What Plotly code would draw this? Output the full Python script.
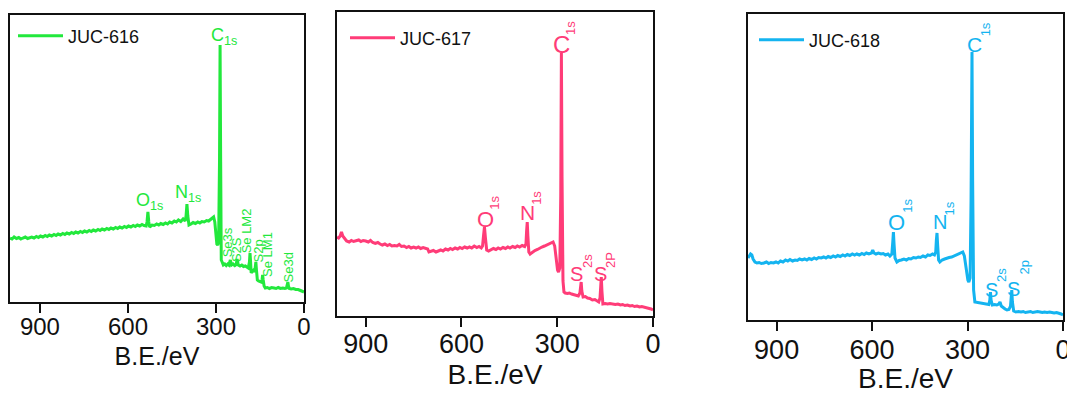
import plotly.graph_objects as go

# ---------------- data (binding energy in eV, intensity in a.u.) ----------------
be_616 = [1002, 995, 988, 980, 972, 965, 958, 950, 942, 935, 928, 920, 912, 905, 898, 890, 882, 875,
          868, 860, 852, 845, 838, 830, 822, 815, 808, 800, 792, 785, 778, 770, 762, 755, 748, 740,
          732, 725, 718, 710, 702, 695, 688, 680, 672, 665, 658, 650, 642, 635, 628, 620, 612, 605,
          598, 590, 582, 575, 568, 560, 552, 545, 538, 535, 532, 529, 526, 518, 510, 502, 495, 488,
          480, 472, 465, 458, 450, 442, 435, 428, 420, 412, 405, 402, 399, 396, 392, 385, 378, 370,
          362, 355, 348, 340, 332, 325, 318, 312, 308, 304, 300, 297, 294, 291, 288, 286, 284, 282,
          279, 275, 270, 265, 260, 256, 251, 247, 242, 236, 231, 228, 224, 218, 212, 206, 200, 195,
          190, 186, 184, 182, 180, 176, 172, 168, 166, 164, 162, 159, 155, 150, 146, 143, 141, 139,
          136, 132, 125, 118, 110, 102, 95, 88, 80, 72, 65, 60, 57, 55, 53, 50, 44, 36, 28, 20, 12, 5, 0]
int_616 = [64, 63, 65, 63.5, 64.5, 63, 64, 65, 63.5, 64.5, 65, 64, 65.5, 64.5, 66, 65, 66.5, 65.5,
           67, 66, 67.5, 66.5, 68, 67, 68.5, 67.5, 69, 68, 69.5, 68.5, 70, 69, 70.5, 69.5, 71, 70,
           71.5, 70.5, 72, 71, 72.5, 71.5, 73, 72, 73.5, 72.5, 74, 73, 74.5, 73.5, 75, 74, 75.5, 74.5,
           76, 75, 76.5, 75.5, 77, 76, 77.5, 76.5, 76, 80, 90, 80, 75, 77, 76.5, 78, 77, 78.5,
           77.5, 79, 78, 80, 79, 81, 80, 82, 80.5, 83, 81, 86, 98, 86, 77, 78, 79.5, 78.5,
           80, 79, 80.5, 80, 81.5, 81, 83, 84, 85, 80, 64, 58, 57, 60, 140, 257, 140, 42,
           40, 37, 38, 36.5, 38, 37, 42, 37, 38, 36.5, 37.5, 43, 37, 36, 37, 35.5, 36, 35,
           34, 40, 49, 40, 29, 31, 32, 30, 34, 40, 32, 22, 21, 20.5, 20, 22, 27, 22,
           16, 14, 14.5, 13.5, 14.5, 14, 13.5, 14.5, 13.5, 14, 13.5, 14, 18, 20, 16, 13.5, 13, 13.5, 12.5, 12.5, 11.5, 10.5, 10]

be_617 = [990, 985, 980, 976, 972, 966, 960, 952, 945, 938, 930, 922, 915, 908, 900, 892, 885, 878,
          870, 862, 855, 848, 840, 832, 825, 818, 810, 802, 795, 788, 780, 772, 765, 758, 750, 742,
          735, 728, 720, 712, 706, 702, 695, 688, 680, 672, 665, 658, 650, 642, 635, 628, 620, 612,
          605, 598, 590, 582, 575, 568, 560, 552, 545, 538, 534, 531, 528, 525, 521, 515, 508, 500,
          492, 485, 478, 470, 462, 455, 448, 440, 432, 425, 418, 410, 402, 398, 396, 394, 392, 389,
          385, 378, 370, 362, 355, 348, 340, 332, 325, 318, 313, 308, 303, 299, 296, 292, 289, 287,
          285, 282, 279, 275, 268, 262, 255, 248, 240, 234, 229, 227, 225, 223, 219, 212, 205, 198,
          190, 182, 175, 170, 166, 164, 162, 160, 157, 150, 142, 135, 125, 118, 110, 102, 95, 88,
          80, 72, 65, 58, 50, 42, 35, 28, 20, 12, 6, 0]
int_617 = [79, 78, 80, 84, 80, 77, 75, 74, 75.5, 74.5, 75, 76, 74.5, 75.5, 75, 74, 75.5, 73.5,
           72.5, 73.5, 72, 71, 72, 70.5, 71.5, 70, 70.5, 70, 71.5, 69.5, 70, 68.5, 69.5, 68, 69, 68,
           69, 67.5, 68.5, 68, 67, 64, 64.5, 65.5, 64, 65, 66, 65, 67, 66, 67.5, 66.5, 68, 67,
           68.5, 67.5, 69, 68, 69, 68, 70, 68.5, 69.5, 68, 70, 80, 89, 78, 66, 65, 66, 67.5,
           66.5, 68, 67, 68.5, 67.5, 69, 68, 69.5, 68.5, 70, 69, 70.5, 69.5, 72, 85, 94, 80, 64,
           62, 64, 65.5, 66.5, 68, 69, 70, 71, 72, 73, 74, 70, 55, 46, 44, 48, 120, 263,
           140, 35, 24, 23, 22.5, 23, 22, 21.5, 21, 20, 23, 32, 34, 25, 19, 19.5, 18, 17.5,
           16, 16.5, 15, 14, 18, 36, 39, 25, 12, 12.5, 12, 12.5, 12, 11.5, 12, 11, 11.5, 10.5,
           11, 10, 10.5, 9.5, 10, 9, 9.5, 9, 8.5, 8, 7, 6]

be_618 = [990, 986, 982, 978, 974, 968, 962, 955, 948, 940, 932, 925, 918, 910, 902, 895, 888, 880,
          872, 865, 858, 850, 842, 835, 828, 820, 812, 805, 798, 790, 782, 775, 768, 760, 752, 745,
          738, 730, 722, 715, 708, 700, 692, 685, 678, 670, 662, 655, 648, 640, 632, 625, 618, 610,
          602, 598, 594, 588, 580, 572, 565, 558, 550, 544, 538, 535, 533, 531, 528, 522, 515, 508,
          500, 492, 485, 478, 470, 462, 455, 448, 440, 432, 425, 418, 410, 404, 400, 398, 396, 394,
          391, 387, 380, 372, 365, 358, 350, 342, 335, 328, 320, 315, 310, 304, 299, 296, 292, 289,
          286, 284, 281, 277, 270, 262, 255, 248, 240, 233, 230, 228, 226, 222, 215, 208, 202, 198,
          194, 188, 182, 176, 170, 165, 163, 161, 159, 155, 148, 140, 132, 125, 118, 110, 102, 95,
          88, 80, 72, 65, 58, 50, 42, 35, 28, 20, 12, 6, 0]
int_618 = [62, 64, 66, 65, 61, 58, 57, 57.5, 56.5, 57, 58, 56.5, 57.5, 57, 58, 57, 59, 58,
           60, 59, 60.5, 59, 60, 59.5, 61, 60, 61, 60, 61.5, 60.5, 62, 61, 62.5, 62, 63, 62,
           63.5, 62.5, 64, 63, 64.5, 63.5, 65, 64, 65.5, 64.5, 66, 65, 66, 65, 66.5, 65.5, 67, 66,
           67, 70, 67, 66, 67, 66, 66.5, 65, 66, 64, 66, 78, 88, 76, 62, 58, 59.5, 60,
           61, 60, 61.5, 61, 62.5, 62, 63, 62.5, 64, 63, 65, 64.5, 66, 65, 68, 80, 87, 75,
           60, 58, 60, 61, 62, 62.5, 63, 64, 65.5, 66, 67, 68, 64, 50, 40, 38, 42, 120,
           268, 140, 30, 18, 17.5, 17, 16.5, 16, 16, 15.5, 20, 28, 20, 15, 15.5, 15, 16, 18,
           14, 12, 11, 10, 10.5, 14, 28, 30, 18, 9, 8, 8.5, 8, 8.5, 7.5, 8, 8.5, 7.5,
           8, 8.5, 8, 7.5, 8, 7.5, 8, 7.5, 7, 7.5, 7, 6, 5]

names = ["JUC-616", "JUC-617", "JUC-618"]
colors = ["#22E83C", "#FF3C78", "#14B4F0"]
tick_vals = [900, 600, 300, 0]
tick_text = ["900", "600", "300", "0"]
x_title = "B.E./eV"

# ---------------- layout helpers ----------------
# the page body has an 8 px margin, so the figure is drawn 8 px smaller and positions offset
OFF = 8
W, H = 1075 - OFF, 394 - OFF
FONT = "Liberation Sans, Arial, sans-serif"

def px_dom(x0, x1, ytop, ybot):
    return [(x0 - OFF) / W, (x1 - OFF) / W], [1 - (ybot - OFF) / H, 1 - (ytop - OFF) / H]

panels = [
    dict(dom=px_dom(10, 304, 15, 302), xr=[1002, 0], yr=[0, 287], tickfs=24, titlefs=25,
         standoff=9, lstand=-7),
    dict(dom=px_dom(337, 653, 12, 316), xr=[990, 0], yr=[0, 304], tickfs=27, titlefs=28,
         standoff=4, lstand=-6),
    dict(dom=px_dom(748, 1063, 14, 320), xr=[990, 0], yr=[0, 306], tickfs=27, titlefs=28,
         standoff=4, lstand=-4),
]
series = [(be_616, int_616), (be_617, int_617), (be_618, int_618)]

fig = go.Figure()
legend_pos = [(13, 36), (345, 38), (754, 40)]
for i, (p, (bx, iy)) in enumerate(zip(panels, series)):
    k = "" if i == 0 else str(i + 1)
    lg = "legend" if i == 0 else f"legend{i + 1}"
    fig.add_trace(go.Scatter(x=bx, y=iy, mode="lines", name=names[i],
                             line=dict(color=colors[i], width=3),
                             xaxis="x" + k, yaxis="y" + k, legend=lg))
    xd, yd = p["dom"]
    fig.update_layout(**{
        "xaxis" + k: dict(domain=xd, range=p["xr"], anchor="y" + k, tickvals=tick_vals, ticktext=tick_text,
                          ticks="outside", ticklen=9, tickwidth=2, tickcolor="#111", automargin=False,
                          ticklabelstandoff=p["lstand"],
                          showline=True, linewidth=2, linecolor="#111", mirror=True,
                          showgrid=False, zeroline=False,
                          tickfont=dict(family=FONT, size=p["tickfs"], color="#111"),
                          title=dict(text=x_title, standoff=p["standoff"],
                                     font=dict(family=FONT, size=p["titlefs"], color="#111"))),
        "yaxis" + k: dict(domain=yd, range=p["yr"], anchor="x" + k, showticklabels=False, ticks="",
                          showline=True, linewidth=2, linecolor="#111", mirror=True, automargin=False,
                          showgrid=False, zeroline=False),
    })
    lx, ly = legend_pos[i]
    fig.update_layout(**{lg: dict(x=(lx - OFF) / W, y=1 - (ly - OFF) / H, xanchor="left", yanchor="middle",
                                  bgcolor="rgba(0,0,0,0)", borderwidth=0, itemwidth=45,
                                  font=dict(family=FONT, size=18, color="#111"))})

# ---------------- peak labels ----------------
ann = []
def lab(text, x, y, ax, size, color, angle=0):
    ann.append(dict(text=text, x=x, y=y, xref="x" + ax, yref="y" + ax, showarrow=False,
                    textangle=angle, font=dict(family=FONT, size=size, color=color),
                    xanchor="center", yanchor="middle"))

# panel 1 (JUC-616)
c = colors[0]
lab("C<sub>1s</sub>", 271, 265, "", 18, c)
lab("O<sub>1s</sub>", 525, 100, "", 18, c)
lab("N<sub>1s</sub>", 394, 108, "", 18, c)
for t, bx, hy in [("Se3s", 258, 60), ("S2S", 228, 52), ("Se LM2", 193, 71),
                  ("S2p", 155, 51), ("Se LM1", 123, 48), ("Se3d", 53, 35)]:
    lab(t, bx, hy, "", 13, c, -90)

# panel 2 (JUC-617)
c = colors[1]
for t, bx, hy, fs in [("C", 288, 272, 24), ("O", 524, 97, 22), ("N", 394, 104, 21),
                      ("S", 241, 42, 20), ("S", 166, 42, 20)]:
    lab(t, bx, hy, "2", fs, c)
for t, bx, hy in [("1s", 260, 288), ("1s", 499, 113), ("1s", 367, 118),
                  ("2s", 207, 55), ("2P", 135, 56)]:
    lab(t, bx, hy, "2", 13, c, -90)

# panel 3 (JUC-618)
c = colors[2]
for t, bx, hy, fs in [("C", 277, 276, 21), ("O", 522, 98, 22), ("N", 387, 98, 20),
                      ("S", 225, 30, 20), ("S", 156, 31, 20)]:
    lab(t, bx, hy, "3", fs, c)
for t, bx, hy in [("1s", 244, 291), ("1s", 491, 114), ("1s", 357, 112),
                  ("2s", 195, 45), ("2p", 124, 52)]:
    lab(t, bx, hy, "3", 13, c, -90)

fig.update_layout(width=W, height=H, margin=dict(l=0, r=0, t=0, b=0),
                  paper_bgcolor="white", plot_bgcolor="white", annotations=ann,
                  showlegend=True)

fig.write_html("out.html")
